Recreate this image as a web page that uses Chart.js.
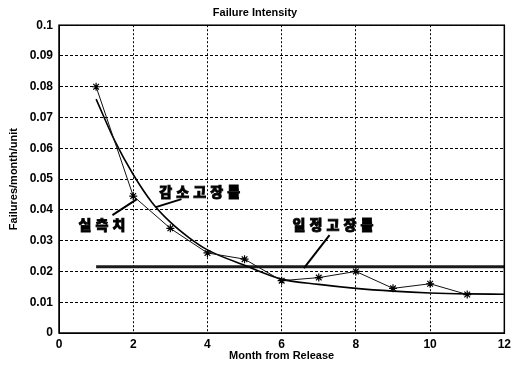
<!DOCTYPE html>
<html>
<head>
<meta charset="utf-8">
<script src="https://cdn.jsdelivr.net/npm/chart.js@4/dist/chart.umd.min.js"></script>
<style>
html,body{margin:0;padding:0;background:#fff;}
#c{display:block;}
</style>
</head>
<body>
<canvas id="c" width="515" height="370"></canvas>
<script>
// ---- data ----
const observedMonths = [1, 2, 3, 4, 5, 6, 7, 8, 9, 10, 11];
const observedValues = [0.080, 0.0445, 0.034, 0.026, 0.024, 0.017, 0.018, 0.020, 0.0145, 0.016, 0.0125];

const fitMonths = [1, 1.5, 2, 2.5, 3, 3.5, 4, 5, 6, 7, 8, 9, 10, 11, 12];
const fitValues = [0.076, 0.0625, 0.0515, 0.0425, 0.036, 0.031, 0.027, 0.022, 0.0175, 0.0158, 0.0145, 0.0136, 0.013, 0.0127, 0.0126];

const constMonths = [1, 12];
const constValues = [0.0215, 0.0215];

const xTicks = [0, 2, 4, 6, 8, 10, 12];
const yTicks = [0, 0.01, 0.02, 0.03, 0.04, 0.05, 0.06, 0.07, 0.08, 0.09, 0.1];

// annotations (data coordinates)
const labels = [
  {text: '감소고장률', x: 3.79, y: 0.0459},
  {text: '실측치', x: 1.16, y: 0.0351},
  {text: '일정고장률', x: 7.38, y: 0.0351}
];
const leaders = [
  {x1: 2.61, y1: 0.0409, x2: 3.30, y2: 0.0435},
  {x1: 1.44, y1: 0.0383, x2: 2.10, y2: 0.0435},
  {x1: 6.60, y1: 0.0211, x2: 7.29, y2: 0.0318}
];

const pts = (xs, ys) => xs.map((x, i) => ({x: x, y: ys[i]}));

const annotPlugin = {
  id: 'annot',
  afterDatasetsDraw(chart) {
    const {ctx, chartArea: a, scales: {x, y}} = chart;
    ctx.save();
    // axes box
    ctx.strokeStyle = '#000';
    ctx.lineWidth = 1.5;
    ctx.setLineDash([]);
    ctx.strokeRect(a.left, a.top, a.right - a.left, a.bottom - a.top);
    // leaders
    ctx.lineWidth = 2;
    leaders.forEach(l => {
      ctx.beginPath();
      ctx.moveTo(x.getPixelForValue(l.x1), y.getPixelForValue(l.y1));
      ctx.lineTo(x.getPixelForValue(l.x2), y.getPixelForValue(l.y2));
      ctx.stroke();
    });
    // labels
    ctx.fillStyle = '#000';
    ctx.strokeStyle = '#000';
    ctx.lineWidth = 0.8;
    ctx.font = '900 14px "Noto Sans CJK KR"';
    ctx.textBaseline = 'middle';
    ctx.textAlign = 'center';
    labels.forEach(lb => {
      const chars = Array.from(lb.text);
      const step = 17;
      const cx = x.getPixelForValue(lb.x);
      const cy = y.getPixelForValue(lb.y);
      const start = cx - step * (chars.length - 1) / 2;
      chars.forEach((ch, i) => {
        ctx.fillText(ch, start + i * step, cy);
        ctx.strokeText(ch, start + i * step, cy);
      });
    });
    ctx.restore();
  }
};

new Chart(document.getElementById('c'), {
  type: 'line',
  data: {
    datasets: [
      {
        label: '실측치',
        data: pts(observedMonths, observedValues),
        borderColor: '#111',
        borderWidth: 1,
        pointStyle: 'star',
        pointRadius: 4,
        pointBorderWidth: 1.2,
        pointBorderColor: '#000',
        pointBackgroundColor: '#000',
        tension: 0
      },
      {
        label: '감소고장률',
        data: pts(fitMonths, fitValues),
        borderColor: '#000',
        borderWidth: 1.6,
        pointRadius: 0,
        cubicInterpolationMode: 'monotone'
      },
      {
        label: '일정고장률',
        data: pts(constMonths, constValues),
        borderColor: '#1a1a1a',
        borderWidth: 3,
        pointRadius: 0
      }
    ]
  },
  options: {
    responsive: false,
    animation: false,
    devicePixelRatio: 1,
    layout: {padding: {top: 0, right: 5, bottom: 0, left: 0}},
    plugins: {
      legend: {display: false},
      tooltip: {enabled: false},
      title: {
        display: true,
        text: 'Failure Intensity',
        color: '#000',
        font: {family: 'Liberation Sans', size: 11, weight: 'bold'},
        padding: {top: 6, bottom: 6}
      }
    },
    scales: {
      x: {
        type: 'linear',
        min: 0, max: 12,
        afterBuildTicks: s => { s.ticks = xTicks.map(v => ({value: v})); },
        afterFit: s => { s.height = 37; },
        grid: {color: '#000', lineWidth: 1, drawTicks: false},
        border: {display: true, color: '#000', dash: [2, 2]},
        ticks: {color: '#000', padding: 4, font: {family: 'Liberation Sans', size: 12, weight: 'bold'}},
        title: {display: true, text: 'Month from Release', color: '#000',
                font: {family: 'Liberation Sans', size: 11, weight: 'bold'}, padding: {top: 0, bottom: 7}}
      },
      y: {
        type: 'linear',
        min: 0, max: 0.1,
        afterBuildTicks: s => { s.ticks = yTicks.map(v => ({value: v})); },
        afterFit: s => { s.width = 59; },
        grid: {color: '#000', lineWidth: 1, drawTicks: false},
        border: {display: true, color: '#000', dash: [3, 2]},
        ticks: {color: '#000', padding: 6, font: {family: 'Liberation Sans', size: 12, weight: 'bold'},
                callback: v => String(Math.round(v * 100) / 100)},
        title: {display: true, text: 'Failures/month/unit', color: '#000',
                font: {family: 'Liberation Sans', size: 11, weight: 'bold'}, padding: {top: 7, bottom: 0}}
      }
    }
  },
  plugins: [annotPlugin]
});
</script>
</body>
</html>
